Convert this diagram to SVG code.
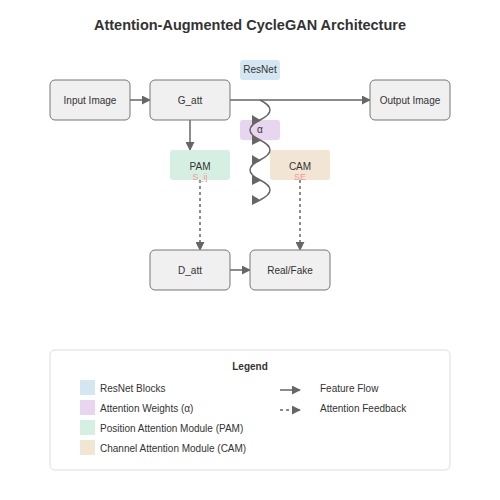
<svg xmlns="http://www.w3.org/2000/svg" width="500" height="500" viewBox="0 0 500 500">
<defs>
<style>
.t{font-family:"Liberation Sans",Arial,sans-serif;fill:#333}
.box{fill:#f0f0f0;stroke:#777;stroke-width:1}
.flow{stroke:#666;stroke-width:1.5;fill:none}
.dash{stroke:#666;stroke-width:1.5;fill:none;stroke-dasharray:3,3}
.sub{font-family:"Liberation Sans",Arial,sans-serif;fill:#f39a9a;font-size:9px}
.wh{fill:#666;stroke:none}
</style>
<marker id="ah" viewBox="0 0 10 10" refX="9" refY="5" markerWidth="6" markerHeight="6" orient="auto" markerUnits="strokeWidth">
<path d="M0,0 L10,5 L0,10 z" fill="#666"/>
</marker>
</defs>
<rect width="500" height="500" fill="#fff"/>
<text class="t" x="250" y="30" text-anchor="middle" font-size="14.5" font-weight="bold">Attention-Augmented CycleGAN Architecture</text>

<g id="connectors">
<line class="flow" x1="130" y1="100" x2="150" y2="100" marker-end="url(#ah)"/>
<line class="flow" x1="230" y1="100" x2="370" y2="100" marker-end="url(#ah)"/>
<line class="flow" x1="190" y1="120" x2="190" y2="150" marker-end="url(#ah)"/>
<line class="dash" x1="200" y1="180" x2="200" y2="250" marker-end="url(#ah)"/>
<line class="dash" x1="300" y1="180" x2="300" y2="250" marker-end="url(#ah)"/>
<line class="flow" x1="230" y1="270" x2="250" y2="270" marker-end="url(#ah)"/>
</g>

<g id="input"><rect class="box" x="50" y="80" width="80" height="40" rx="5"/><text class="t" x="90" y="104" text-anchor="middle" font-size="10">Input Image</text></g>
<g id="gatt"><rect class="box" x="150" y="80" width="80" height="40" rx="5"/><text class="t" x="190" y="104" text-anchor="middle" font-size="10">G_att</text></g>
<g id="output"><rect class="box" x="370" y="80" width="80" height="40" rx="5"/><text class="t" x="410" y="104" text-anchor="middle" font-size="10">Output Image</text></g>
<g id="resnet"><rect x="240" y="60" width="40" height="20" rx="3" fill="#d4e6f1"/><text class="t" x="260" y="73" text-anchor="middle" font-size="10">ResNet</text></g>
<g id="alpha"><rect x="240" y="120" width="40" height="20" rx="3" fill="#e8d5f0"/><text class="t" x="260" y="133" text-anchor="middle" font-size="10">α</text></g>
<g id="pam"><rect x="170" y="150" width="60" height="30" rx="3" fill="#d5f0e3"/><text class="t" x="200" y="170" text-anchor="middle" font-size="10">PAM</text><text class="sub" x="200" y="180" text-anchor="middle">S_ij</text></g>
<g id="cam"><rect x="270" y="150" width="60" height="30" rx="3" fill="#f2e5d3"/><text class="t" x="300" y="170" text-anchor="middle" font-size="10">CAM</text><text class="sub" x="300" y="180" text-anchor="middle">SE</text></g>
<g id="wave">
<path class="flow" d="M260,100 Q280,110 260,120 Q240,130 260,140 Q280,150 260,160 Q240,170 260,180 Q280,190 260,200"/>
<polygon class="wh" points="252,115 261,120.5 252,125"/>
<polygon class="wh" points="252,135 261,140.5 252,145"/>
<polygon class="wh" points="252,155 261,160.5 252,165"/>
<polygon class="wh" points="252,175 261,180.5 252,185"/>
<polygon class="wh" points="252,195 261,200.5 252,205"/>
</g>
<g id="datt"><rect class="box" x="150" y="250" width="80" height="40" rx="5"/><text class="t" x="190" y="274" text-anchor="middle" font-size="10">D_att</text></g>
<g id="realfake"><rect class="box" x="250" y="250" width="80" height="40" rx="5"/><text class="t" x="290" y="274" text-anchor="middle" font-size="10">Real/Fake</text></g>

<g id="legend">
<rect x="50" y="350" width="400" height="120" rx="5" fill="#fff" stroke="#ddd" stroke-width="1"/>
<text class="t" x="250" y="370" text-anchor="middle" font-size="10" font-weight="bold">Legend</text>
<rect x="80" y="380" width="15" height="15" fill="#d4e6f1"/>
<text class="t" x="100" y="392" font-size="10">ResNet Blocks</text>
<rect x="80" y="400" width="15" height="15" fill="#e8d5f0"/>
<text class="t" x="100" y="412" font-size="10">Attention Weights (α)</text>
<rect x="80" y="420" width="15" height="15" fill="#d5f0e3"/>
<text class="t" x="100" y="432" font-size="10">Position Attention Module (PAM)</text>
<rect x="80" y="440" width="15" height="15" fill="#f2e5d3"/>
<text class="t" x="100" y="452" font-size="10">Channel Attention Module (CAM)</text>
<line class="flow" x1="280" y1="390" x2="300" y2="390" marker-end="url(#ah)"/>
<text class="t" x="320" y="392" font-size="10">Feature Flow</text>
<line class="dash" x1="280" y1="410" x2="300" y2="410" marker-end="url(#ah)"/>
<text class="t" x="320" y="412" font-size="10">Attention Feedback</text>
</g>
</svg>
